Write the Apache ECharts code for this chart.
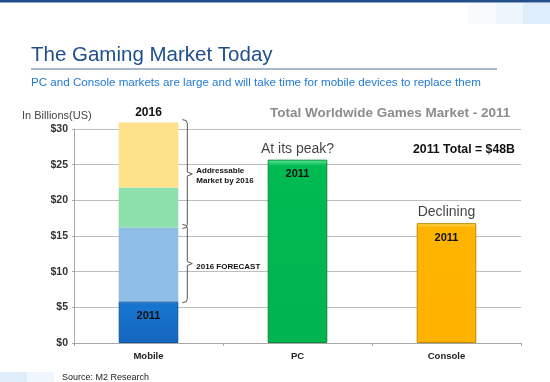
<!DOCTYPE html>
<html>
<head>
<meta charset="utf-8">
<script src="https://cdn.jsdelivr.net/npm/echarts@6/dist/echarts.min.js"></script>
<style>html,body{margin:0;padding:0;background:#fff;}#c{width:550px;height:382px;}</style>
</head>
<body>
<div id="c"></div>
<script>
// ---- data ----
var categories = ['Mobile', 'PC', 'Console'];
var values2011 = [5.8, 25.7, 16.8];           // 2011 market size, $B
var mobileForecast2016 = [10.4, '-', '-'];    // extra to reach 2016 forecast (~16.2)
var mobileAddressableA = [5.6, '-', '-'];     // green segment (to ~21.8)
var mobileAddressableB = [9.1, '-', '-'];     // yellow segment (to ~30.9)
var annotations = ['', 'At its peak?', 'Declining'];
var braces = [[0, 5.8, 16.2, '2016 FORECAST'], [0, 16.2, 30.9, 'Addressable\nMarket by 2016']];
var yTicks = [0, 5, 10, 15, 20, 25, 30];

var FONT = 'Liberation Sans, Arial, sans-serif';
function grad(top, mid, bot) {
  return new echarts.graphic.LinearGradient(0, 0, 0, 1, [
    {offset: 0, color: top}, {offset: 0.035, color: mid}, {offset: 1, color: bot}
  ]);
}
var colors2011 = [
  {fill: grad('#7cd0ff', '#1876d0', '#1466bd'), border: '#0f57a0'},
  {fill: grad('#5fe79a', '#00ba52', '#00b44f'), border: '#0b8a3c'},
  {fill: grad('#ffdf6a', '#ffb500', '#ffb200'), border: '#c08a00'}
];

var chart = echarts.init(document.getElementById('c'), null, {renderer: 'canvas'});
chart.setOption({
  animation: false,
  textStyle: {fontFamily: FONT},
  grid: {left: 74, right: 29, top: 129, bottom: 39},
  graphic: [
    {type: 'rect', shape: {x: 0, y: 0, width: 550, height: 2.5}, style: {fill: '#234e8b'}},
    {type: 'rect', shape: {x: 468, y: 3, width: 28, height: 21}, style: {fill: '#f8fbfe'}},
    {type: 'rect', shape: {x: 496, y: 3, width: 27, height: 21}, style: {fill: '#edf5fd'}},
    {type: 'rect', shape: {x: 523, y: 3, width: 27, height: 21}, style: {fill: '#deedfb'}},
    {type: 'text', left: 31, top: 45, style: {text: 'The Gaming Market Today', font: '20.5px ' + FONT, fill: '#1f4e8c'}},
    {type: 'line', shape: {x1: 31, y1: 69, x2: 497, y2: 69}, style: {stroke: '#8d9dba', lineWidth: 1.5}},
    {type: 'text', left: 31, top: 77, style: {text: 'PC and Console markets are large and will take time for mobile devices to replace them', font: '11.6px ' + FONT, fill: '#1f7ad3'}},
    {type: 'text', left: 22, top: 110, style: {text: 'In Billions(US)', font: '11px ' + FONT, fill: '#444'}},
    {type: 'text', left: 270, top: 106, style: {text: 'Total Worldwide Games Market - 2011', font: 'bold 13.5px ' + FONT, fill: '#8c8c8c'}},
    {type: 'text', left: 413, top: 144, style: {text: '2011 Total = $48B', font: 'bold 12.3px ' + FONT, fill: '#111'}},
    {type: 'rect', shape: {x: 0, y: 372, width: 27, height: 10}, style: {fill: '#dfedfa'}},
    {type: 'rect', shape: {x: 27, y: 372, width: 27, height: 10}, style: {fill: '#eff6fd'}},
    {type: 'text', left: 62, top: 373, style: {text: 'Source: M2 Research', font: '9px ' + FONT, fill: '#222'}}
  ],
  xAxis: {
    type: 'category', data: categories,
    axisLine: {lineStyle: {color: '#a8a8a8'}},
    axisTick: {show: true, length: 3, lineStyle: {color: '#a8a8a8'}},
    axisLabel: {color: '#222', fontWeight: 'bold', fontSize: 9.5, margin: 8}
  },
  yAxis: {
    type: 'value', min: 0, max: 30, interval: 5,
    axisLine: {show: true, lineStyle: {color: '#a8a8a8'}},
    axisTick: {show: true, length: 2, lineStyle: {color: '#a8a8a8'}},
    axisLabel: {color: '#333', fontWeight: 'bold', fontSize: 10.5, margin: 6,
      formatter: function (v) { return yTicks.indexOf(v) >= 0 ? '$' + v : ''; }},
    splitLine: {lineStyle: {color: '#bdbdbd'}}
  },
  series: [
    {
      type: 'bar', stack: 'm', barWidth: '40%', clip: false, z: 3,
      data: values2011.map(function (v, i) {
        return {value: v, itemStyle: {color: colors2011[i].fill, borderColor: colors2011[i].border, borderWidth: 1}};
      }),
      label: {show: true, position: 'insideTop', distance: 9, formatter: '2011',
        color: '#111', fontWeight: 'bold', fontSize: 11}
    },
    {type: 'bar', stack: 'm', barWidth: '40%', clip: false, data: mobileForecast2016, itemStyle: {color: '#8ebde6'}},
    {type: 'bar', stack: 'm', barWidth: '40%', clip: false, data: mobileAddressableA, itemStyle: {color: '#8ddfab'}},
    {type: 'bar', stack: 'm', barWidth: '40%', clip: false, data: mobileAddressableB, itemStyle: {color: '#fee18b'},
      label: {show: true, position: 'top', distance: 4, formatter: '2016', color: '#111', fontWeight: 'bold', fontSize: 12}},
    {
      type: 'scatter', symbolSize: 0, silent: true, clip: false,
      data: values2011.map(function (v, i) { return [i, v]; }),
      label: {show: true, position: 'top', distance: 4, color: '#111', fontSize: 14,
        formatter: function (p) { return annotations[p.dataIndex]; }}
    },
    {
      type: 'custom', clip: false, silent: true,
      data: braces,
      encode: {x: 0, y: [1, 2]},
      renderItem: function (params, api) {
        var lo = api.coord([api.value(0), api.value(1)]);
        var hi = api.coord([api.value(0), api.value(2)]);
        var band = api.size([1, 0])[0];
        var x = lo[0] + band * 0.2 + 9;
        var y1 = hi[1] - 3, y2 = lo[1] + 1, ym = (y1 + y2) / 2;
        var txt = braces[params.dataIndex][3];
        return {
          type: 'group',
          children: [
            {type: 'polyline', shape: {points: [[x - 5, y1], [x - 1, y1 + 1], [x, y1 + 4], [x, ym - 2], [x + 5, ym], [x, ym + 2], [x, y2 - 4], [x - 1, y2 - 1], [x - 5, y2]]},
              style: {stroke: '#555', lineWidth: 1, fill: null}},
            {type: 'text', style: {text: txt, x: x + 9, y: ym + (txt.indexOf('\n') >= 0 ? 2 : 3), font: 'bold 8px ' + FONT, fill: '#111', textVerticalAlign: 'middle', lineHeight: 10}}
          ]
        };
      }
    }
  ]
});
</script>
</body>
</html>
